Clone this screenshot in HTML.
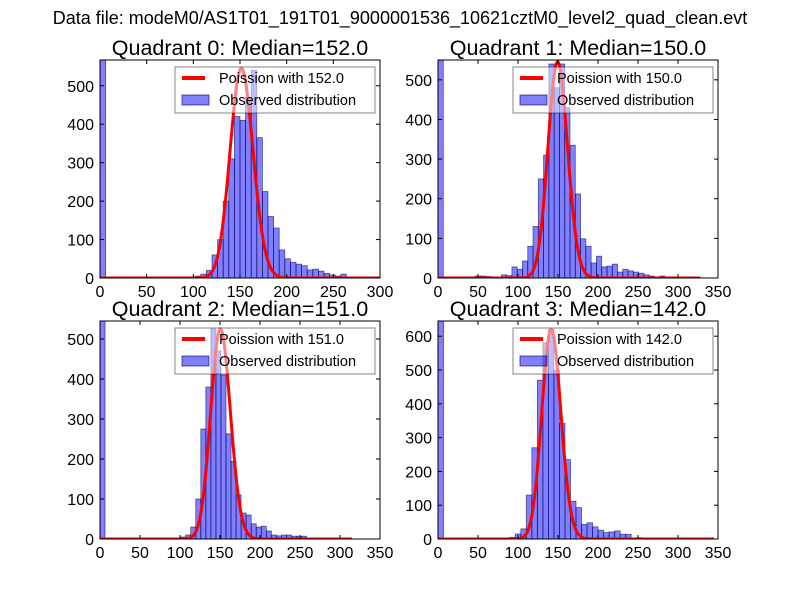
<!DOCTYPE html>
<html><head><meta charset="utf-8"><style>
body{margin:0;background:#fff}
svg{display:block;font-family:"Liberation Sans",sans-serif}
</style></head><body>
<svg id="fig" width="800" height="600">
<rect width="800" height="600" fill="#fff"/>
<text x="400" y="24" text-anchor="middle" font-size="18">Data file: modeM0/AS1T01_191T01_9000001536_10621cztM0_level2_quad_clean.evt</text>
</svg>
<script>
const quadNames=["Quadrant 0","Quadrant 1","Quadrant 2","Quadrant 3"];
const medians=[152.0,150.0,151.0,142.0];
const binWidths=[6,6.6,6.3,6.9];
const xMaxes=[300,350,350,350];
const xTickVals=[[0,50,100,150,200,250,300],[0,50,100,150,200,250,300,350],[0,50,100,150,200,250,300,350],[0,50,100,150,200,250,300,350]];
const yMaxes=[567,550,545,645];
const yTickVals=[[0,100,200,300,400,500],[0,100,200,300,400,500],[0,100,200,300,400,500],[0,100,200,300,400,500,600]];
const peakHeights=[545,545,525,620];
const curveEnds=[300,328,315,345];
const counts0=[567,0,0,0,0,0,0,0,0,0,0,0,0,0,0,0,2,5,10,20,60,100,200,310,420,410,470,540,365,225,160,130,73,50,41,36,32,21,23,18,12,8,5,10,2,0,0,0,0,0];
const counts1=[550,0,0,0,0,0,0,5,5,4,0,0,8,6,28,22,43,80,130,250,310,540,480,540,430,335,212,99,80,38,55,28,30,35,15,22,18,15,12,8,5,2,5,2,1,1,0,0,0,0];
const counts2=[545,0,0,0,0,0,0,0,0,0,0,0,0,0,0,0,5,10,30,100,275,380,525,470,410,263,194,110,65,60,38,30,32,20,10,8,10,10,7,7,7,2,2,0,0,0,0,0,0,0];
const counts3=[645,0,0,0,0,0,0,3,0,0,0,0,3,5,15,30,130,270,470,580,620,500,342,235,112,93,43,48,36,26,19,21,24,14,14,3,4,0,0,0,0,0,0,0,0,0,0,0,0,0];
const allCounts=[counts0,counts1,counts2,counts3];
const boxes=[[100,60,380,278],[438,60,718,278],[100,321,380,539],[438,321,718,539]];
const NS="http://www.w3.org/2000/svg";
const fig=document.getElementById('fig');
function mk(tag,attrs,parent){const e=document.createElementNS(NS,tag);for(const k in attrs)e.setAttribute(k,attrs[k]);(parent||fig).appendChild(e);return e;}
function lgamma(n){let s=0;for(let i=2;i<=n;i++)s+=Math.log(i);return s;}
for(let q=0;q<4;q++){
  const [x0,y0,x1,y1]=boxes[q];
  const g=mk('g',{});
  
  
  const xs=v=>x0+(v/xMaxes[q])*(x1-x0);
  const ys=v=>y1-(v/yMaxes[q])*(y1-y0);
  const cp=mk('clipPath',{id:'cp'+q},g);mk('rect',{x:x0,y:y0,width:x1-x0,height:y1-y0},cp);
  const bars=mk('g',{'clip-path':'url(#cp'+q+')'},g);
  allCounts[q].forEach((c,i)=>{
    if(c<=0)return;
    const a=xs(i*binWidths[q]),b=xs((i+1)*binWidths[q]);
    const r=mk('rect',{x:a,y:ys(c),width:b-a,height:y1-ys(c),fill:'rgba(0,0,255,0.5)',stroke:'rgba(0,0,80,0.6)','stroke-width':0.8},bars);
    
    
  });
  const mu=medians[q];const pk=Math.floor(mu);
  const pmf=k=>Math.exp(k*Math.log(mu)-mu-lgamma(k));
  const scale=peakHeights[q]/pmf(pk);
  let d='';
  for(let k=0;k<=curveEnds[q];k++){d+=(k?'L':'M')+xs(k).toFixed(2)+','+ys(pmf(k)*scale).toFixed(2);}
  const pl=mk('path',{d:d,fill:'none',stroke:'#ff0000','stroke-width':3,'stroke-linejoin':'round','clip-path':'url(#cp'+q+')'},g);
  
  
  mk('rect',{x:x0,y:y0,width:x1-x0,height:y1-y0,fill:'none',stroke:'#000','stroke-width':1},g);
  xTickVals[q].forEach(v=>{
    const x=xs(v);
    mk('line',{x1:x,x2:x,y1:y1,y2:y1-4,stroke:'#000'},g);
    mk('line',{x1:x,x2:x,y1:y0,y2:y0+4,stroke:'#000'},g);
    const t=mk('text',{x:x,y:y1+19,'text-anchor':'middle','font-size':16},g);t.textContent=v;
    
    
  });
  yTickVals[q].forEach(v=>{
    const y=ys(v);
    mk('line',{x1:x0,x2:x0+4,y1:y,y2:y,stroke:'#000'},g);
    mk('line',{x1:x1,x2:x1-4,y1:y,y2:y,stroke:'#000'},g);
    const t=mk('text',{x:x0-6,y:y+6,'text-anchor':'end','font-size':16},g);t.textContent=v;
    
    
  });
  const ti=mk('text',{x:(x0+x1)/2,y:y0-5,'text-anchor':'middle','font-size':21.5},g);
  ti.textContent=quadNames[q]+': Median='+medians[q].toFixed(1);
  
  
  const lg=mk('g',{},g);
  
  
  const lx=x1-205,ly=y0+7;
  mk('rect',{x:lx,y:ly,width:200,height:46,fill:'rgba(255,255,255,0.5)',stroke:'#000','stroke-width':0.8,'stroke-opacity':0.6},lg);
  mk('line',{x1:lx+7,x2:lx+30,y1:ly+11,y2:ly+11,stroke:'#ff0000','stroke-width':4},lg);
  const t1=mk('text',{x:lx+44,y:ly+16,'font-size':14.5},lg);t1.textContent='Poission with '+medians[q].toFixed(1);
  
  
  mk('rect',{x:lx+7,y:ly+28,width:27,height:10,fill:'rgba(0,0,255,0.5)',stroke:'rgba(0,0,80,0.6)'},lg);
  const t2=mk('text',{x:lx+44,y:ly+38,'font-size':14.5},lg);t2.textContent='Observed distribution';
  
  
}
</script>
</body></html>
